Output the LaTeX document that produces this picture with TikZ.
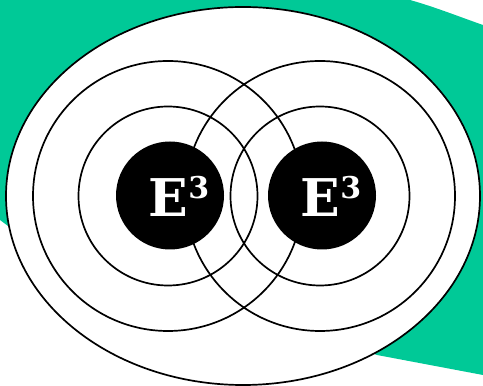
\documentclass[tikz,border=0pt]{standalone}
\usepackage{fontspec}
\newfontfamily\slabfont{DejaVu Serif}
\usetikzlibrary{positioning,calc}
\definecolor{MintGreen}{RGB}{0,201,151}
\tikzset{ring/.style={draw=black,line width=0.85pt}, disc/.style={circle,fill=black,inner sep=0pt,minimum size=54pt}, coretext/.style={text=white,inner sep=0pt,font=\slabfont\bfseries\fontsize{26}{26}\selectfont}}
\newcommand{\ecube}{E\raisebox{9pt}{\fontsize{15}{15}\selectfont 3}}

\begin{document}
\begin{tikzpicture}[x=0.5pt,y=0.5pt]
\useasboundingbox (0,0) rectangle (483,386);
\coordinate (lc) at (168,190);
\coordinate (rc) at (320,190);
\fill[MintGreen] (0,386) -- (410,386) .. controls (435,379) and (460,369) .. (483,361) -- (483,11) -- (377,31) -- (8,160) -- (0,166) -- cycle;
\draw[ring,fill=white] (243,190) ellipse [x radius=237, y radius=189];
\draw[ring] (lc) circle [radius=89.5];
\draw[ring] (lc) circle [radius=135];
\draw[ring] (rc) circle [radius=89.5];
\draw[ring] (rc) circle [radius=135];
\node[disc] (leftcore) at ($(lc)+(2,0.5)$) {};
\node[disc] (rightcore) at ($(rc)+(2,0.5)$) {};
\node[coretext,xshift=4.5pt,yshift=-0.5pt] at (leftcore) {\ecube};
\node[coretext,xshift=4.5pt,yshift=-0.5pt] at (rightcore) {\ecube};
\end{tikzpicture}
\end{document}
